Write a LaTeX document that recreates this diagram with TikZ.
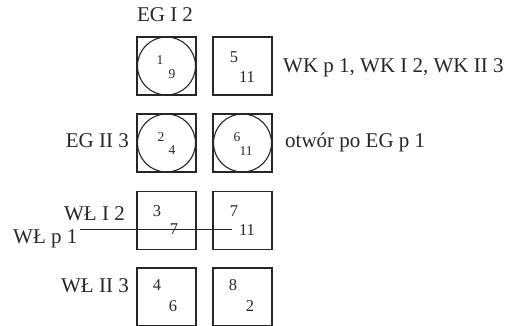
\documentclass[tikz,border=0pt]{standalone}
\usepackage{fontspec}
\setmainfont{Liberation Serif}
\begin{document}
\begin{tikzpicture}[x=1pt,y=-1pt,
  cell/.style={draw=black!85,line width=1.2pt,minimum width=59pt,minimum height=58pt,inner sep=0pt},
  ring/.style={draw=black!85,line width=1.1pt,circle,minimum size=58pt,inner sep=0pt},
  lab/.style={font=\fontsize{21}{23}\selectfont,inner sep=0pt,text=black!85},
  snum/.style={font=\fontsize{13.5}{14}\selectfont,inner sep=0pt,text=black!85},
  bnum/.style={font=\fontsize{16.5}{17}\selectfont,inner sep=0pt,text=black!85}]
\useasboundingbox (0,0) rectangle (508,326);
% boxes
\node[cell] (b1) at (166.5,66) {};
\node[ring] (c1) at (166.5,66) {};
\node[cell] (b5) at (242.5,66) {};
\node[cell] (b2) at (166.5,143) {};
\node[ring] (c2) at (166.5,143) {};
\node[cell] (b6) at (242.5,143) {};
\node[ring] (c6) at (242.5,143) {};
\node[cell] (b3) at (166.5,220.5) {};
\node[cell] (b7) at (242.5,220.5) {};
\node[cell] (b4) at (166.5,297) {};
\node[cell] (b8) at (242.5,297) {};
% numbers
\node[snum] (n1a) at (160,60) {1};
\node[snum] (n1b) at (172,74.5) {9};
\node[bnum] (n5a) at (234,57) {5};
\node[bnum] (n5b) at (247,77) {11};
\node[snum] (n2a) at (161,137) {2};
\node[snum] (n2b) at (172,150) {4};
\node[snum] (n6a) at (237,137) {6};
\node[snum] (n6b) at (246,151) {11};
\node[bnum] (n3a) at (157,211) {3};
\node[bnum] (n3b) at (174,229) {7};
\node[bnum] (n7a) at (234,211) {7};
\node[bnum] (n7b) at (247,230) {11};
\node[bnum] (n4a) at (157,285) {4};
\node[bnum] (n4b) at (173,306) {6};
\node[bnum] (n8a) at (233,285) {8};
\node[bnum] (n8b) at (250,306) {2};
% labels
\node[lab,anchor=base] (l1) at (165,22) {EG I 2};
\node[lab,anchor=base west] (l2) at (283,73) {WK p 1, WK I 2, WK II 3};
\node[lab,anchor=base east] (l3) at (129,147) {EG II 3};
\node[lab,anchor=base west] (l4) at (285,147) {otwór po EG p 1};
\node[lab,anchor=base east] (l5) at (125,220) {WŁ I 2};
\node[lab,anchor=base west] (l6) at (13,243) {WŁ p 1};
\node[lab,anchor=base east] (l7) at (129,292) {WŁ II 3};
% line
\coordinate (p1) at (80,229);
\coordinate (p2) at (232,229);
\draw[black!85,line width=0.9pt] (p1) -- (p2);
\end{tikzpicture}
\end{document}
